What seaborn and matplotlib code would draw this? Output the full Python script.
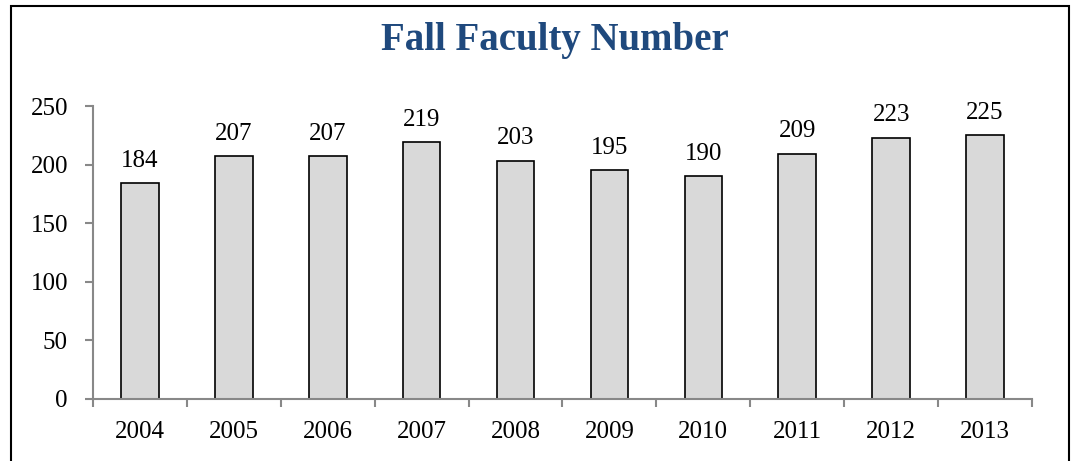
import matplotlib

matplotlib.use("Agg")
import matplotlib.pyplot as plt
import numpy as np
import pandas as pd
import seaborn as sns
from matplotlib.patches import Rectangle

years = ["2004", "2005", "2006", "2007", "2008", "2009", "2010", "2011", "2012", "2013"]
faculty = [184, 207, 207, 219, 203, 195, 190, 209, 223, 225]
y_ticks = [0, 50, 100, 150, 200, 250]

sns.set_theme(style="white")
plt.rcParams["font.family"] = ["Liberation Serif", "DejaVu Serif"]

df = pd.DataFrame({"year": years, "faculty": faculty})

fig = plt.figure(figsize=(10.75, 4.61), dpi=100)
ax = fig.add_axes([0.0865, 0.1345, 0.8735, 0.6355])

sns.barplot(data=df, x="year", y="faculty", color="#d9d9d9", edgecolor="black",
            linewidth=1.2, width=0.4, saturation=1, ax=ax)

for i, v in enumerate(faculty):
    ax.text(i, v + 10, str(v), ha="center", va="bottom", fontsize=18, color="black")

ax.set_xlim(-0.5, len(years) - 0.5)
ax.set_ylim(0, 250)
ax.set_yticks(y_ticks)
ax.set_xlabel("")
ax.set_ylabel("")

axis_grey = "#888888"
for side in ["top", "right"]:
    ax.spines[side].set_visible(False)
for side in ["left", "bottom"]:
    ax.spines[side].set_color(axis_grey)
    ax.spines[side].set_linewidth(1.5)

ax.set_xticks(np.arange(-0.5, len(years)), minor=True)
ax.tick_params(axis="x", which="major", bottom=True, length=0, pad=16, labelsize=18,
               colors="black")
ax.tick_params(axis="x", which="minor", bottom=True, length=6, width=1.5,
               color=axis_grey, direction="out")
ax.tick_params(axis="y", length=6, width=1.5, color=axis_grey, direction="out",
               labelsize=18, labelcolor="black", pad=12, left=True)

fig.text(0.516, 0.912, "Fall Faculty Number", ha="center", va="center",
         fontsize=28, fontweight="bold", color="#1f497d")

fig.patches.append(Rectangle((11 / 1075, -0.05), (1069 - 11) / 1075, 1 - 6 / 461 + 0.05,
                             transform=fig.transFigure, fill=False,
                             edgecolor="black", linewidth=1.5))

fig.savefig("out.png", dpi=100)
plt.close(fig)
